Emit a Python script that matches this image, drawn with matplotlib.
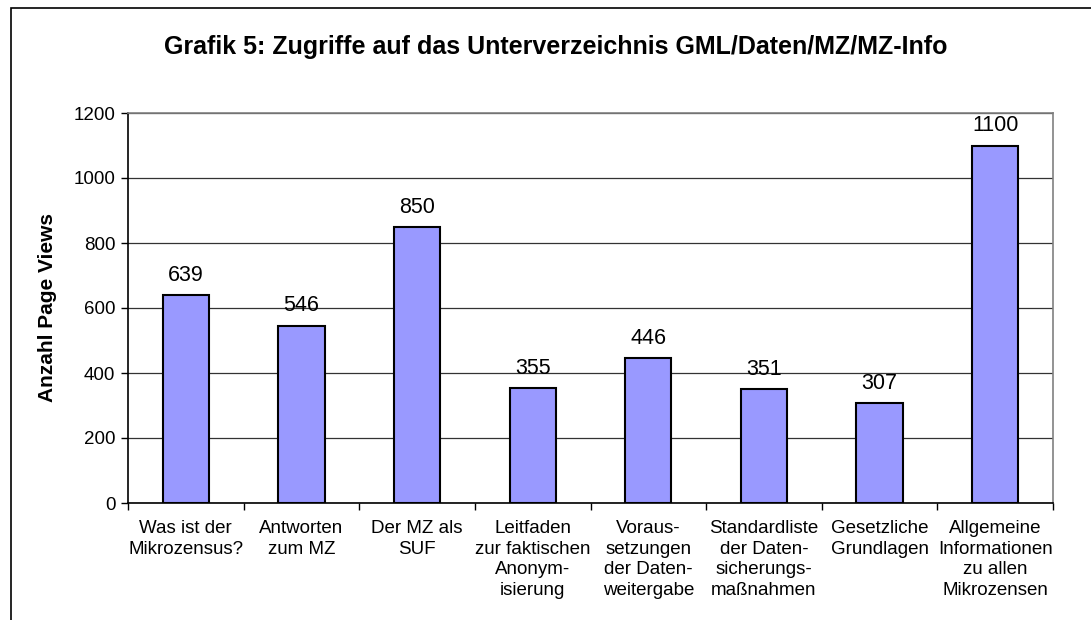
import numpy as np
import matplotlib
matplotlib.use("Agg")
import matplotlib.pyplot as plt
from matplotlib.patches import Rectangle

categories = [
    "Was ist der\nMikrozensus?",
    "Antworten\nzum MZ",
    "Der MZ als\nSUF",
    "Leitfaden\nzur faktischen\nAnonym-\nisierung",
    "Voraus-\nsetzungen\nder Daten-\nweitergabe",
    "Standardliste\nder Daten-\nsicherungs-\nmaßnahmen",
    "Gesetzliche\nGrundlagen",
    "Allgemeine\nInformationen\nzu allen\nMikrozensen",
]
page_views = [639, 546, 850, 355, 446, 351, 307, 1100]
yticks = [0, 200, 400, 600, 800, 1000, 1200]

plt.rcParams["font.family"] = ["Liberation Sans", "DejaVu Sans"]

fig = plt.figure(figsize=(10.91, 6.2), dpi=100)
W, H = 1091, 620
ax = fig.add_axes([128 / W, 1 - 503 / H, (1053 - 128) / W, (503 - 113) / H])

# outer chart frame (left and top visible)
fig.patches.append(Rectangle((11 / W, -0.1), 1.2, (1 - 8 / H) + 0.1,
                             transform=fig.transFigure, fill=False,
                             edgecolor="black", linewidth=1.2))

x = np.arange(len(categories))
ax.bar(x, page_views, width=0.4, color="#9999FF", edgecolor="black",
       linewidth=1.5, zorder=3)
for xi, v in zip(x, page_views):
    ax.text(xi, v + 28, str(v), ha="center", va="bottom", fontsize=15.5)

ax.set_xlim(-0.5, len(categories) - 0.5)
ax.set_ylim(0, 1200)
ax.set_yticks(yticks)
ax.tick_params(axis="y", labelsize=13.5, length=5, width=1, direction="out", pad=4)
ax.yaxis.grid(True, color="#333333", linewidth=0.9, zorder=0)

ax.set_xticks(x)
ax.set_xticklabels(categories, fontsize=13.5, linespacing=1.3)
ax.tick_params(axis="x", which="major", length=0, pad=12)
ax.set_xticks(np.arange(len(categories) + 1) - 0.5, minor=True)
ax.tick_params(axis="x", which="minor", length=5, width=1, direction="out")

for side in ["top", "right"]:
    ax.spines[side].set_color("#808080")
    ax.spines[side].set_linewidth(1.2)
for side in ["left", "bottom"]:
    ax.spines[side].set_color("black")
    ax.spines[side].set_linewidth(1.2)

ax.set_ylabel("Anzahl Page Views", fontsize=15, fontweight="bold", labelpad=12)
fig.text(0.5 + 10 / W, 1 - 47 / H, "Grafik 5: Zugriffe auf das Unterverzeichnis GML/Daten/MZ/MZ-Info",
         ha="center", va="center", fontsize=18, fontweight="bold")

fig.savefig("out.png", dpi=100)
